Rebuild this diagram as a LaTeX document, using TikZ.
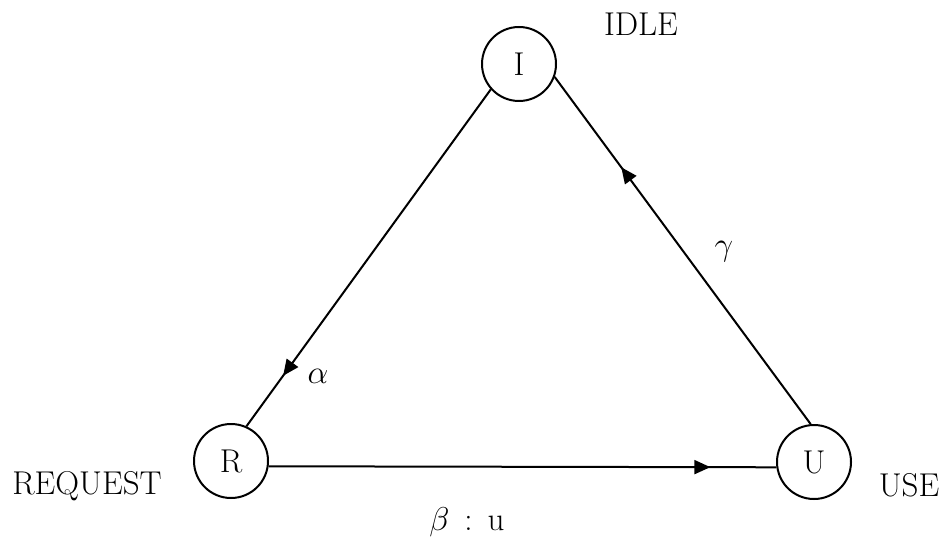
\RequirePackage{fix-cm}
\documentclass[tikz,border=0pt]{standalone}
\usetikzlibrary{arrows.meta,decorations.markings}
\begin{document}
\begin{tikzpicture}[x=1pt,y=-1pt,
  every node/.style={font=\fontsize{33}{40}\selectfont},
  state/.style={draw,circle,line width=2pt,minimum size=74pt,inner sep=0pt},
  conn/.style={line width=2pt},
  midarrow/.style={postaction={decorate},decoration={markings,
    mark=at position #1 with {\arrow{Triangle[length=16pt,width=14pt]}}}}]
\useasboundingbox (0,0) rectangle (944,537);
\node[state] (I) at (519,64) {I};
\node[state] (R) at (231,461) {R};
\node[state] (U) at (814,462) {U};
\node (idle) at (641,24) {IDLE};
\node (req) at (87,486) {REQUEST};
\node (use) at (909,485) {USE};
\node (alpha) at (318,376) {$\alpha$};
\node (gamma) at (724,252) {$\gamma$};
\node (beta) at (467,522) {$\beta$\hspace{15pt}:\hspace{15pt}u};
\draw[conn,midarrow=0.85] (I.222) -- (R.66);
\draw[conn,midarrow=0.87] (R.-8) -- (U.188);
\draw[conn,midarrow=0.74] (U.95) -- (I.-20);
\end{tikzpicture}
\end{document}
